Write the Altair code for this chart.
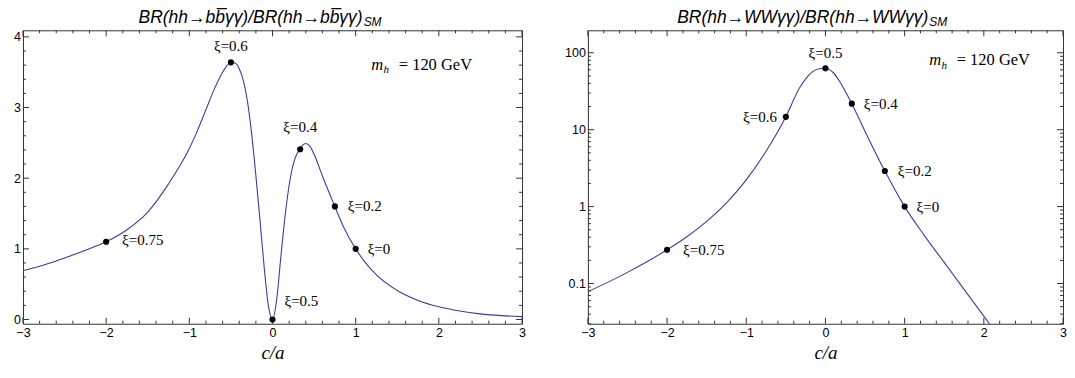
import altair as alt
import pandas as pd

# ---------------- data ----------------
LEFT_X = [-3.0, -2.75, -2.5, -2.25, -2.0, -1.75, -1.5, -1.25, -1.0, -0.9, -0.8, -0.7, -0.6,
          -0.55, -0.5, -0.45, -0.4, -0.35, -0.3, -0.25, -0.2, -0.15, -0.1, -0.05, 0.0, 0.05,
          0.1, 0.15, 0.2, 0.25, 0.3, 0.333, 0.35, 0.4, 0.45, 0.5, 0.6, 0.7, 0.75, 0.85, 1.0,
          1.1, 1.25, 1.5, 1.75, 2.0, 2.25, 2.5, 2.75, 3.0]
LEFT_Y = [0.69, 0.77, 0.87, 0.98, 1.10, 1.27, 1.52, 1.92, 2.42, 2.68, 2.97, 3.26, 3.50,
          3.59, 3.64, 3.63, 3.55, 3.38, 3.08, 2.62, 2.04, 1.40, 0.74, 0.20, 0.0, 0.28,
          0.88, 1.45, 1.90, 2.20, 2.36, 2.41, 2.45, 2.49, 2.45, 2.34, 2.03, 1.74, 1.60, 1.32, 1.00,
          0.83, 0.63, 0.41, 0.27, 0.18, 0.12, 0.08, 0.055, 0.04]

RIGHT_X = [-3.0, -2.75, -2.5, -2.25, -2.0, -1.75, -1.5, -1.25, -1.0, -0.75, -0.5, -0.33,
           -0.25, -0.17, -0.08, 0.0, 0.1, 0.17, 0.25, 0.333, 0.5, 0.75, 1.0, 1.25, 1.5,
           1.75, 2.0, 2.2]
RIGHT_Y = [0.0785, 0.1035, 0.1396, 0.193, 0.275, 0.406, 0.644, 1.12, 2.23, 5.24, 14.7, 34.5,
           45.7, 56.0, 62.0, 63.0, 55.0, 44.0, 31.6, 21.8, 9.5, 2.9, 1.0, 0.42, 0.188,
           0.084, 0.0376, 0.0197]

XI_LABELS = ["ξ=0.75", "ξ=0.6", "ξ=0.5", "ξ=0.4", "ξ=0.2", "ξ=0"]
XI_CA = [-2.0, -0.5, 0.0, 0.333, 0.75, 1.0]
LEFT_DOT_Y = [1.10, 3.64, 0.0, 2.41, 1.60, 1.00]
RIGHT_DOT_Y = [0.275, 14.7, 63.0, 21.8, 2.9, 1.0]

X_TICKS = [-3, -2, -1, 0, 1, 2, 3]
LEFT_Y_TICKS = [0, 1, 2, 3, 4]
RIGHT_Y_TICKS = [0.1, 1, 10, 100]

TITLE_LEFT = "BR(hh→bb\u0305γγ)/BR(hh→bb\u0305γγ)"
TITLE_RIGHT = "BR(hh→WWγγ)/BR(hh→WWγγ)"
TITLE_SUB = "SM"
MH_M, MH_SUB, MH_REST = "m", "h", "= 120 GeV"
X_TITLE = "c/a"

# ---------------- layout / style ----------------
LINE = "#3d3d99"
FRAME = "#333333"
SANS = "Liberation Sans"
SERIF = "Liberation Serif"
PLOT_H = 294

# label placement: (align, dx, dy) per xi label
LEFT_LABEL_LAYOUT = [("left", 16, -2), ("center", 0, -16), ("left", 12, -19),
                     ("center", 0, -22), ("left", 13, 0), ("left", 12, 0)]
RIGHT_LABEL_LAYOUT = [("left", 16, 0), ("right", -9, 0), ("center", 0, -15),
                      ("left", 12, 0), ("left", 13, 0), ("left", 12, 0)]

X_MINOR = [round(-3 + 0.2 * i, 1) for i in range(31)]
X_MINOR = [v for v in X_MINOR if abs(v - round(v)) > 1e-6]
LEFT_Y_MINOR = [round(0.2 * i, 1) for i in range(21)]
LEFT_Y_MINOR = [v for v in LEFT_Y_MINOR if abs(v - round(v)) > 1e-6]
RIGHT_Y_MINOR = [m * 10.0 ** e for e in range(-2, 3) for m in range(2, 10)]
RIGHT_Y_MINOR = [round(v, 6) for v in RIGHT_Y_MINOR if 0.03 <= v <= 196]

ONE = alt.Data(values=[{}])


def ticks_layers(X, Y, W, H, x_major, x_minor, y_major, y_minor):
    layers = []
    for vals, ln in ((x_major, 6), (x_minor, 3)):
        df = pd.DataFrame({"v": vals})
        base = alt.Chart(df).mark_rule(color=FRAME, strokeWidth=1)
        layers.append(base.encode(x=X("v:Q"), y=alt.value(H), y2=alt.value(H - ln)))
        layers.append(base.encode(x=X("v:Q"), y=alt.value(0), y2=alt.value(ln)))
    for vals, ln in ((y_major, 6), (y_minor, 3)):
        df = pd.DataFrame({"v": vals})
        base = alt.Chart(df).mark_rule(color=FRAME, strokeWidth=1)
        layers.append(base.encode(y=Y("v:Q"), x=alt.value(0), x2=alt.value(ln)))
        layers.append(base.encode(y=Y("v:Q"), x=alt.value(W), x2=alt.value(W - ln)))
    return layers


def panel(cx, cy, dot_y, layout, ys, yaxis, W, H, y_major, y_minor,
          title, title_end, mh_x, mh_base):
    xs = alt.Scale(domain=[-3, 3], nice=False, zero=False)
    xaxis = alt.Axis(values=X_TICKS, title=X_TITLE, labelPadding=3, titlePadding=4,
                     labelFlush=False, labelExpr="replace(datum.label, '-', '−')")

    def X(f):
        return alt.X(f, scale=xs, axis=xaxis)

    def Y(f):
        return alt.Y(f, scale=ys, axis=yaxis)

    curve = pd.DataFrame({"x": cx, "y": cy})
    line = alt.Chart(curve).mark_line(color=LINE, strokeWidth=1.1, interpolate="monotone",
                                      clip=True).encode(x=X("x:Q"), y=Y("y:Q"))
    dots_df = pd.DataFrame({"x": XI_CA, "y": dot_y, "t": XI_LABELS})
    dots = alt.Chart(dots_df).mark_circle(size=38, color="black", opacity=1).encode(
        x=X("x:Q"), y=Y("y:Q"))
    labels = []
    for i, (al, dx, dy) in enumerate(layout):
        d = dots_df.iloc[[i]]
        labels.append(alt.Chart(d).mark_text(align=al, baseline="middle", dx=dx, dy=dy,
                                             font=SERIF, fontSize=15, color="black").encode(
            x=X("x:Q"), y=Y("y:Q"), text="t:N"))
    title_main = alt.Chart(ONE).mark_text(align="right", baseline="alphabetic", font=SANS,
                                          fontStyle="italic", fontSize=17.5, color="black").encode(
        x=alt.value(title_end), y=alt.value(-7.3), text=alt.value(title))
    title_sub = alt.Chart(ONE).mark_text(align="left", baseline="alphabetic", font=SANS,
                                         fontStyle="italic", fontSize=12, color="black").encode(
        x=alt.value(title_end + 1), y=alt.value(-4), text=alt.value(TITLE_SUB))
    mh1 = alt.Chart(ONE).mark_text(align="left", baseline="alphabetic", font=SERIF,
                                   fontStyle="italic", fontSize=16.5, color="black").encode(
        x=alt.value(mh_x), y=alt.value(mh_base), text=alt.value(MH_M))
    mh2 = alt.Chart(ONE).mark_text(align="left", baseline="alphabetic", font=SERIF,
                                   fontStyle="italic", fontSize=11, color="black").encode(
        x=alt.value(mh_x + 12.3), y=alt.value(mh_base + 3.5), text=alt.value(MH_SUB))
    mh3 = alt.Chart(ONE).mark_text(align="left", baseline="alphabetic", font=SERIF,
                                   fontSize=16.5, color="black").encode(
        x=alt.value(mh_x + 27.5), y=alt.value(mh_base), text=alt.value(MH_REST))
    layers = [line] + ticks_layers(X, Y, W, H, X_TICKS, X_MINOR, y_major, y_minor) + \
        [dots] + labels + [title_main, title_sub, mh1, mh2, mh3]
    return alt.layer(*layers).properties(width=W, height=H)


left_ys = alt.Scale(domain=[-0.06, 4.093], nice=False, zero=False)
left_yaxis = alt.Axis(values=LEFT_Y_TICKS, title=None, labelPadding=2.5,
                      minExtent=14, maxExtent=14)
right_ys = alt.Scale(type="log", domain=[0.03, 196], nice=False)
right_yaxis = alt.Axis(values=RIGHT_Y_TICKS, title=None, labelPadding=2.5, format="~g",
                       minExtent=24, maxExtent=24)

left = panel(LEFT_X, LEFT_Y, LEFT_DOT_Y, LEFT_LABEL_LAYOUT, left_ys, left_yaxis,
             500, PLOT_H, LEFT_Y_TICKS, LEFT_Y_MINOR, TITLE_LEFT, 340.3, 349, 39.5)
right = panel(RIGHT_X, RIGHT_Y, RIGHT_DOT_Y, RIGHT_LABEL_LAYOUT, right_ys, right_yaxis,
              476, PLOT_H, RIGHT_Y_TICKS, RIGHT_Y_MINOR, TITLE_RIGHT, 341, 342, 35)

chart = alt.hconcat(left, right, spacing=37).properties(
    padding={"left": 0, "top": 0, "right": 0, "bottom": 0}
).configure_view(stroke=FRAME, strokeWidth=1).configure_axis(
    domain=False, ticks=False, grid=False, labelFont=SANS, labelFontSize=12.5,
    labelColor="black", titleFont=SERIF, titleFontStyle="italic", titleFontWeight="normal",
    titleFontSize=19, titleColor="black")

chart.save("out.html", embed_options={"renderer": "svg", "actions": False})
